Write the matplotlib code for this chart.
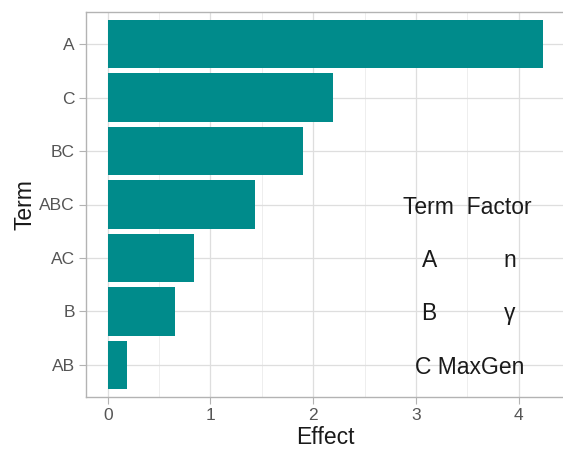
import matplotlib
matplotlib.use("Agg")
import matplotlib.pyplot as plt
from matplotlib.ticker import MultipleLocator

terms = ["AB", "B", "AC", "ABC", "BC", "C", "A"]
effects = [0.19, 0.65, 0.84, 1.43, 1.90, 2.19, 4.24]

table_rows = [("Term", "Factor"), ("A", "n"), ("B", "γ"), ("C", "MaxGen")]

plt.rcParams['font.family'] = ['Liberation Sans', 'DejaVu Sans']

fig = plt.figure(figsize=(5.63, 4.53), dpi=100)
W, H = 563, 453
left, right, top, bottom = 86, 565, 12, 397
ax = fig.add_axes([left / W, 1 - bottom / H, (right - left) / W, (bottom - top) / H])

ypos = list(range(1, len(terms) + 1))
ax.barh(ypos, effects, height=0.9, color="#008B8B", zorder=3)

ax.set_xlim(-0.212, 4.452)
ax.set_ylim(0.4, 7.6)
ax.set_yticks(ypos)
ax.set_yticklabels(terms)
ax.xaxis.set_major_locator(MultipleLocator(1))
ax.xaxis.set_minor_locator(MultipleLocator(0.5))
ax.grid(which="major", color="#dedede", linewidth=0.9, zorder=0)
ax.grid(which="minor", axis="x", color="#ebebeb", linewidth=0.6, zorder=0)
for s in ax.spines.values():
    s.set_color("#b3b3b3")
    s.set_linewidth(1.0)
ax.tick_params(axis="both", which="major", colors="#b3b3b3", labelcolor="#555555",
               labelsize=12.5, length=5, width=0.8, pad=3)
ax.tick_params(axis="x", which="minor", length=0)
ax.set_xlabel("Effect", fontsize=16.5, color="#1a1a1a", labelpad=2)
ax.set_ylabel("Term", fontsize=16.5, color="#1a1a1a", labelpad=2)

# annotation table
ann_y = [4, 3, 2, 1]
kw = dict(ha="center", va="center_baseline", fontsize=16.5, color="#1a1a1a", zorder=4)
ax.text(3.5, ann_y[0], "Term  Factor", **kw)
for (t, f), yv in zip(table_rows[1:3], ann_y[1:3]):
    ax.text(3.13, yv, t, **kw)
    ax.text(3.91, yv, f, **kw)
ax.text(3.52, ann_y[3], table_rows[3][0] + " " + table_rows[3][1], **kw)

fig.savefig("out.png", dpi=100)
